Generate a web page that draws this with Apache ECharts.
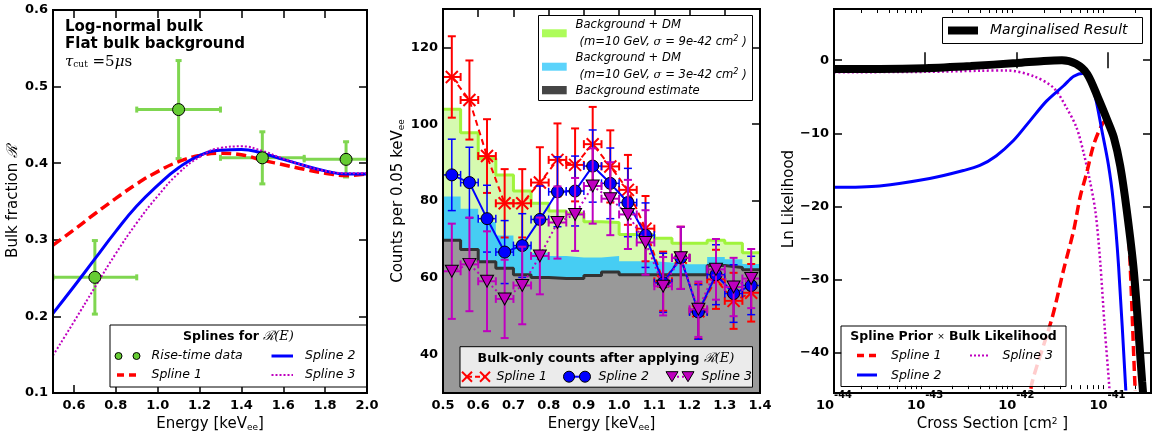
<!DOCTYPE html>
<html><head><meta charset="utf-8">
<script src="https://cdn.jsdelivr.net/npm/echarts@6/dist/echarts.min.js"></script>
<style>html,body{margin:0;padding:0;background:#fff}#c{width:1158px;height:437px}</style>
</head><body><div id="c"></div>
<script>
// ---------------- Left panel data ----------------
const riseE = [0.7, 1.1, 1.5, 1.9];
const riseR = [0.251, 0.470, 0.407, 0.405];
const riseRErr = [0.048, 0.064, 0.034, 0.023];
const riseEErr = [0.2, 0.2, 0.2, 0.2];
const splineE  = [0.5,0.6,0.7,0.8,0.9,1.0,1.1,1.2,1.3,1.4,1.5,1.6,1.7,1.8,1.9,2.0];
const spline1R = [0.293,0.313,0.334,0.354,0.373,0.389,0.402,0.410,0.413,0.411,0.404,0.398,0.392,0.387,0.384,0.386];
const spline2R = [0.204,0.239,0.275,0.311,0.344,0.371,0.394,0.410,0.417,0.418,0.413,0.405,0.397,0.390,0.386,0.386];
const spline3R = [0.149,0.193,0.238,0.282,0.322,0.357,0.387,0.408,0.420,0.422,0.416,0.406,0.397,0.390,0.387,0.387];
const leftXTicks = [0.6,0.8,1.0,1.2,1.4,1.6,1.8,2.0];
const leftYTicks = [0.1,0.2,0.3,0.4,0.5,0.6];

// ---------------- Middle panel data ----------------
const binLow = [0.50,0.55,0.60,0.65,0.70,0.75,0.80,0.85,0.90,0.95,1.00,1.05,1.10,1.15,1.20,1.25,1.30,1.35];
const binWidth = 0.05;
const bgCounts  = [69.8,67.4,64.2,62.5,60.8,60.1,59.8,59.8,60.6,61.5,60.8,60.8,60.8,60.8,60.8,63.2,62.7,62.1];
const dm3Counts = [81.2,78.0,74.5,71.0,68.3,66.5,65.7,65.3,65.3,65.7,64.3,64.3,64.0,63.5,63.5,65.4,64.8,63.6];
const dm9Counts = [103.9,97.8,91.1,86.8,82.6,79.4,77.4,76.8,74.6,74.4,71.3,71.3,70.3,69.0,69.0,69.8,69.0,66.5];
const binCentres = [0.525,0.575,0.625,0.675,0.725,0.775,0.825,0.875,0.925,0.975,1.025,1.075,1.125,1.175,1.225,1.275,1.325,1.375];
const bulk1    = [112.3,106.3,91.7,79.4,79.4,84.8,90.7,89.4,94.8,89.0,82.9,72.8,59.1,65.2,51.3,59.6,54.0,56.1];
const bulk1Err = [10.6,10.3,9.6,8.9,8.9,9.2,9.5,9.5,9.7,9.4,9.1,8.5,7.7,8.1,7.2,7.7,7.3,7.5];
const bulk2    = [86.8,84.8,75.4,66.7,68.4,75.2,82.4,82.6,89.1,84.6,79.6,71.1,58.7,65.2,51.1,60.8,55.9,58.0];
const bulk2Err = [9.3,9.2,8.7,8.2,8.3,8.7,9.1,9.1,9.4,9.2,8.9,8.4,7.7,8.1,7.1,7.8,7.5,7.6];
const bulk3    = [61.7,63.5,59.1,54.5,58.0,65.7,74.4,76.5,83.9,80.6,76.5,69.2,57.8,65.2,51.8,62.2,57.6,59.8];
const bulk3Err = [12.4,12.2,13.0,10.2,10.1,10.0,9.4,9.5,9.8,9.5,9.0,8.4,7.6,8.1,7.2,7.9,7.6,7.7];
const midXTicks = [0.5,0.6,0.7,0.8,0.9,1.0,1.1,1.2,1.3,1.4];
const midYTicks = [40,60,80,100,120];

// ---------------- Right panel data (cross section in cm^2) ----------------
const sigmaMarg = [1e-44,3.16e-44,1e-43,3.16e-43,1e-42,2e-42,3.16e-42,4.5e-42,6e-42,7.9e-42,1e-41,1.175e-41,1.38e-41,1.62e-41,1.95e-41,2.4e-41,2.63e-41];
const lnLMarg   = [-1.2,-1.2,-1.1,-0.8,-0.4,-0.1,0.0,-0.5,-1.9,-5.2,-8.3,-10.6,-14.5,-20.4,-29,-44,-50];
const sigmaS1 = [1.41e-42,1.48e-42,2.45e-42,3.31e-42,4.27e-42,5.01e-42,5.89e-42,7.08e-42,8.91e-42,1e-41,1.12e-41,1.32e-41,1.62e-41,2.0e-41,2.09e-41];
const lnLS1   = [-47,-44.2,-35.4,-28.6,-23.2,-18.7,-15.5,-11.5,-8.6,-8.2,-9.5,-13,-19.2,-44.4,-50];
const sigmaS2 = [1e-44,3.16e-44,1.12e-43,2.63e-43,3.98e-43,6.0e-43,9.3e-43,1.41e-42,2.14e-42,3.3e-42,4.27e-42,5.5e-42,6.46e-42,7.4e-42,8.7e-42,1.02e-41,1.15e-41,1.32e-41,1.58e-41,1.7e-41];
const lnLS2   = [-17.4,-17.2,-16.2,-15.1,-14.4,-13.1,-11.0,-8.3,-5.6,-3.5,-2.2,-1.8,-2.8,-5.2,-9.7,-14.2,-19,-28,-44.7,-52];
const sigmaS3 = [1e-44,1e-43,4e-43,7.9e-43,1.55e-42,2.57e-42,3.55e-42,4.57e-42,5.5e-42,6.46e-42,7.41e-42,8.32e-42,9.33e-42,1.05e-41,1.1e-41];
const lnLS3   = [-1.65,-1.6,-1.45,-1.4,-2.2,-3.8,-6.5,-9.2,-12.8,-16.7,-20.9,-27.6,-36.7,-45,-50];
const rightXTicks = [1e-44,1e-43,1e-42,1e-41];
const rightXMax = 3e-41;
const rightYTicks = [-40,-30,-20,-10,0];
const minorMult = [2,3,4,5,6,7,8,9];

// ---------------- helpers ----------------
const FONT = '"DejaVu Sans", sans-serif';
const SERIF = '"DejaVu Serif", serif';
const G = [
  {left:53, top:10, width:314, height:383},
  {left:443, top:9, width:317, height:384},
  {left:834, top:9, width:317, height:384}
];
const lg = Math.log10;
const rightMajor = rightXTicks.map(lg);
const rightMinor = [];
rightXTicks.forEach(d => minorMult.forEach(m => { const v = m*d; if (v < rightXMax) rightMinor.push(lg(v)); }));

const pairs = (xs, ys) => xs.map((x,i)=>[x, ys[i]]);
const logPairs = (xs, ys) => xs.map((x,i)=>[lg(x), ys[i]]);
const stepData = vals => { const d = binLow.map((x,i)=>[x, vals[i]]); d.push([binLow[binLow.length-1]+binWidth, vals[vals.length-1]]); return d; };
const errData = (xs, ys, ye, xe) => xs.map((x,i)=>[x, ys[i], ye[i], Array.isArray(xe)? xe[i] : xe]);

function errRender(color, lw, cap){
  return function(params, api){
    const x=api.value(0), y=api.value(1), e=api.value(2), xe=api.value(3);
    const t = api.coord([x,y+e]), b = api.coord([x,y-e]);
    const l = api.coord([x-xe,y]), r = api.coord([x+xe,y]);
    const st = {stroke: color, lineWidth: lw};
    const segs = [
      [t[0],t[1],b[0],b[1]], [l[0],l[1],r[0],r[1]],
      [t[0]-cap,t[1],t[0]+cap,t[1]], [b[0]-cap,b[1],b[0]+cap,b[1]],
      [l[0],l[1]-cap,l[0],l[1]+cap], [r[0],r[1]-cap,r[0],r[1]+cap]
    ];
    return {type:'group', children: segs.map(p=>({type:'line', shape:{x1:p[0],y1:p[1],x2:p[2],y2:p[3]}, style: st}))};
  };
}

const tickStyle = {show:true, inside:true, length:8, lineStyle:{color:'#000', width:1.5}};
const lblBase = {color:'#000', fontFamily: FONT, fontWeight:'bold', fontSize:13};
const nameStyle = {color:'#000', fontFamily: FONT, fontSize:15,
  rich:{ sub:{fontSize:9, fontFamily:FONT, verticalAlign:'bottom', lineHeight:10},
         sup:{fontSize:9, fontFamily:FONT, verticalAlign:'top', lineHeight:10},
         r:{fontSize:15, fontFamily:SERIF, fontStyle:'italic'} }};

function mkX(grid, pos, min, max, ticks, labelFmt, extra){
  return Object.assign({
    type:'value', gridIndex: grid, position: pos, min, max,
    axisLine:{show:false}, splitLine:{show:false},
    axisTick: Object.assign({}, tickStyle, {customValues: ticks}),
    axisLabel: labelFmt ? Object.assign({}, lblBase, {customValues: ticks, formatter: labelFmt, margin:6}) : {show:false}
  }, extra || {});
}
function mkY(grid, pos, min, max, ticks, labelFmt, extra){
  return Object.assign({
    type:'value', gridIndex: grid, position: pos, min, max,
    axisLine:{show:false}, splitLine:{show:false},
    axisTick: Object.assign({}, tickStyle, {customValues: ticks}),
    axisLabel: labelFmt ? Object.assign({}, lblBase, {customValues: ticks, formatter: labelFmt, margin:5}) : {show:false}
  }, extra || {});
}

const RMIN = lg(rightXTicks[0]), RMAX = lg(rightXMax);
const xAxes = [
  mkX(0,'bottom',0.5,2.0,leftXTicks,v=>v.toFixed(1),{name:'Energy [keV{sub|ee}]', nameLocation:'middle', nameGap:19, nameTextStyle:nameStyle}),
  mkX(0,'top',0.5,2.0,leftXTicks,null),
  mkX(1,'bottom',0.5,1.4,midXTicks,v=>v.toFixed(1),{name:'Energy [keV{sub|ee}]', nameLocation:'middle', nameGap:19, nameTextStyle:nameStyle}),
  mkX(1,'top',0.5,1.4,midXTicks,null),
  mkX(2,'bottom',RMIN,RMAX,rightMajor,v=>'{b|10}{s|'+Math.round(v)+'}',{name:'Cross Section [cm{sup|2} ]', nameLocation:'middle', nameGap:19, nameTextStyle:nameStyle}),
  mkX(2,'top',RMIN,RMAX,rightMajor,null),
  mkX(2,'bottom',RMIN,RMAX,rightMinor,null),
  mkX(2,'top',RMIN,RMAX,rightMinor,null)
];
xAxes[4].axisLabel.rich = {b:{fontSize:13, fontWeight:'bold', fontFamily:FONT, lineHeight:22, verticalAlign:'bottom'},
                          s:{fontSize:10, fontWeight:'bold', fontFamily:FONT, lineHeight:22, verticalAlign:'top'}};
xAxes[4].axisLabel.margin = 1;
xAxes[6].axisTick.length = 4; xAxes[6].axisTick.lineStyle = {color:'#000', width:1};
xAxes[7].axisTick.length = 4; xAxes[7].axisTick.lineStyle = {color:'#000', width:1};

const yAxes = [
  mkY(0,'left',0.1,0.6,leftYTicks,v=>v.toFixed(1),{name:'Bulk fraction {r|ℛ}', nameLocation:'middle', nameGap:31, nameRotate:90, nameTextStyle:nameStyle}),
  mkY(0,'right',0.1,0.6,leftYTicks,null),
  mkY(1,'left',30,130,midYTicks,v=>String(v),{name:'Counts per 0.05 keV{sub|ee}', nameLocation:'middle', nameGap:37, nameRotate:90, nameTextStyle:nameStyle}),
  mkY(1,'right',30,130,midYTicks,null),
  mkY(2,'left',-45,7,rightYTicks,v=>(v<0?'\u2212'+Math.abs(v):String(v)),{name:'Ln Likelihood', nameLocation:'middle', nameGap:34, nameRotate:90, nameTextStyle:nameStyle}),
  mkY(2,'right',-45,7,rightYTicks,null)
];

const RED='#ff0000', BLUE='#0000ff', MAG='#bf00bf';
const series = [];
// ---- left panel
series.push({type:'custom', xAxisIndex:0, yAxisIndex:0, clip:true, z:2, renderItem: errRender('#7fd650', 3, 3),
  data: errData(riseE, riseR, riseRErr, riseEErr), encode:{x:0,y:1}});
series.push({type:'line', xAxisIndex:0, yAxisIndex:0, smooth:true, showSymbol:false, z:3,
  data: pairs(splineE, spline1R), lineStyle:{color:RED, width:3.5, type:[10,5]}});
series.push({type:'line', xAxisIndex:0, yAxisIndex:0, smooth:true, showSymbol:false, z:3,
  data: pairs(splineE, spline2R), lineStyle:{color:BLUE, width:3}});
series.push({type:'line', xAxisIndex:0, yAxisIndex:0, smooth:true, showSymbol:false, z:3,
  data: pairs(splineE, spline3R), lineStyle:{color:MAG, width:2, type:[2,2]}});
series.push({type:'scatter', xAxisIndex:0, yAxisIndex:0, z:4, symbol:'circle', symbolSize:12,
  data: pairs(riseE, riseR), itemStyle:{color:'#66cc33', borderColor:'#000', borderWidth:1, opacity:1}});

// ---- middle panel histograms
series.push({type:'line', xAxisIndex:2, yAxisIndex:2, step:'end', showSymbol:false, z:1,
  data: stepData(dm9Counts), lineStyle:{color:'#a0f43c', width:3}, areaStyle:{color:'#d6fab0', opacity:1, origin:'start'}});
series.push({type:'line', xAxisIndex:2, yAxisIndex:2, step:'end', showSymbol:false, z:1,
  data: stepData(dm3Counts), lineStyle:{width:0, color:'#46cdf3'}, areaStyle:{color:'#46cdf3', opacity:1, origin:'start'}});
series.push({type:'line', xAxisIndex:2, yAxisIndex:2, step:'end', showSymbol:false, z:1,
  data: stepData(bgCounts), lineStyle:{color:'#333333', width:3}, areaStyle:{color:'#999999', opacity:1, origin:'start'}});

// ---- middle panel bulk counts
const X_SYM = 'path://M0,0L10,10M10,0L0,10';
const TRI_SYM = 'path://M0,0L12,0L6,10Z';
series.push({type:'custom', xAxisIndex:2, yAxisIndex:2, clip:true, z:3, renderItem: errRender(RED, 2, 4),
  data: errData(binCentres, bulk1, bulk1Err, binWidth/2), encode:{x:0,y:1}});
series.push({type:'line', xAxisIndex:2, yAxisIndex:2, z:4, symbol:X_SYM, symbolSize:12, showAllSymbol:true,
  data: pairs(binCentres, bulk1), lineStyle:{color:RED, width:2, type:[6,4]},
  itemStyle:{color:RED, borderColor:RED, borderWidth:2}});
series.push({type:'custom', xAxisIndex:2, yAxisIndex:2, clip:true, z:5, renderItem: errRender(BLUE, 1.5, 4),
  data: errData(binCentres, bulk2, bulk2Err, binWidth/2), encode:{x:0,y:1}});
series.push({type:'line', xAxisIndex:2, yAxisIndex:2, z:6, symbol:'circle', symbolSize:12, showAllSymbol:true,
  data: pairs(binCentres, bulk2), lineStyle:{color:BLUE, width:2},
  itemStyle:{color:BLUE, borderColor:'#000', borderWidth:1}});
series.push({type:'custom', xAxisIndex:2, yAxisIndex:2, clip:true, z:7, renderItem: errRender(MAG, 2, 4),
  data: errData(binCentres, bulk3, bulk3Err, binWidth/2), encode:{x:0,y:1}});
series.push({type:'line', xAxisIndex:2, yAxisIndex:2, z:8, symbol:TRI_SYM, symbolSize:[13,12], showAllSymbol:true,
  data: pairs(binCentres, bulk3), lineStyle:{color:MAG, width:2, type:[2,3]},
  itemStyle:{color:MAG, borderColor:'#000', borderWidth:1}});

// ---- right panel (x plotted as log10 of cross section)
series.push({type:'line', xAxisIndex:4, yAxisIndex:4, smooth:0.3, showSymbol:false, z:3,
  data: logPairs(sigmaS3, lnLS3), lineStyle:{color:MAG, width:2.5, type:[2,2.5]}});
series.push({type:'line', xAxisIndex:4, yAxisIndex:4, smooth:0.3, showSymbol:false, z:3,
  data: logPairs(sigmaS1, lnLS1), lineStyle:{color:RED, width:3.5, type:[10,5]}});
series.push({type:'line', xAxisIndex:4, yAxisIndex:4, smooth:0.3, showSymbol:false, z:3,
  data: logPairs(sigmaS2, lnLS2), lineStyle:{color:BLUE, width:3}});
series.push({type:'line', xAxisIndex:4, yAxisIndex:4, smooth:0.3, showSymbol:false, z:4,
  data: logPairs(sigmaMarg, lnLMarg), lineStyle:{color:'#000', width:8}});

// ---------------- graphics: frames, legends, annotations ----------------
const gfx = [];
const T = (x, y, text, font, extra) => ({type:'text', x, y, z:101,
  style: Object.assign({text, font, fill:'#000', align:'left', verticalAlign:'middle'}, extra||{})});
const L = (x1,y1,x2,y2,color,w,dash) => ({type:'line', z:101, shape:{x1,y1,x2,y2}, style:{stroke:color, lineWidth:w, lineDash:dash||null}});
const BOX = (x,y,w,h,fill) => ({type:'rect', z:100, shape:{x,y,width:w,height:h}, style:{fill, stroke:'#000', lineWidth:1}});
const ITAL = 'italic 12.5px ' + FONT;
const ITS = 'italic 11.6px ' + FONT;
const BOLD = 'bold 12.5px ' + FONT;

G.forEach(g => gfx.push({type:'rect', z:102, shape:{x:g.left, y:g.top, width:g.width, height:g.height}, style:{fill:null, stroke:'#000', lineWidth:2}}));

// left annotation
gfx.push(T(65, 27, 'Log-normal bulk', 'bold 15px '+FONT));
gfx.push(T(65, 44, 'Flat bulk background', 'bold 15px '+FONT));
gfx.push(T(65, 62, '{a|τ}{b|cut}{c| =5}{a|μ}{c|s}', '15px '+SERIF, {rich:{
  a:{font:'italic 15px '+SERIF, verticalAlign:'middle'},
  b:{font:'9px '+SERIF, verticalAlign:'bottom', lineHeight:14},
  c:{font:'15px '+SERIF}}}));

// left legend
gfx.push(BOX(110, 325, 257, 62, '#fff'));
gfx.push(T(238.5, 337, '{a|Splines for }{b|ℛ(E)}', BOLD, {align:'center', rich:{a:{font:BOLD}, b:{font:'italic 13px '+SERIF}}}));
gfx.push({type:'circle', z:101, shape:{cx:118.5, cy:356, r:3.5}, style:{fill:'#66cc33', stroke:'#000', lineWidth:1}});
gfx.push({type:'circle', z:101, shape:{cx:136.5, cy:356, r:3.5}, style:{fill:'#66cc33', stroke:'#000', lineWidth:1}});
gfx.push(T(151.5, 356, 'Rise-time data', ITAL));
gfx.push(L(271.5, 356, 293, 356, BLUE, 3));
gfx.push(T(305, 356, 'Spline 2', ITAL));
gfx.push(L(117, 375, 137, 375, RED, 3.5, [7,5]));
gfx.push(T(151.5, 375, 'Spline 1', ITAL));
gfx.push(L(271.5, 375, 293, 375, MAG, 2, [2,2]));
gfx.push(T(305, 375, 'Spline 3', ITAL));

// middle top legend
gfx.push(BOX(538.5, 15.5, 214, 85, '#fff'));
gfx.push({type:'rect', z:101, shape:{x:542, y:29.3, width:24.7, height:8}, style:{fill:'#adfc5a'}});
gfx.push(T(575.5, 25, 'Background + DM', ITS));
gfx.push(T(579.5, 42, '{a|(m=10 GeV, }{s|σ}{a| = 9e-42 cm}{p|2}{a| )}', ITS, {rich:{a:{font:ITS}, s:{font:'italic 11.6px '+SERIF}, p:{font:'italic 8px '+FONT, verticalAlign:'top', lineHeight:15}}}));
gfx.push({type:'rect', z:101, shape:{x:542, y:62.7, width:24.7, height:8}, style:{fill:'#5bd3fb'}});
gfx.push(T(575.5, 58.3, 'Background + DM', ITS));
gfx.push(T(579.5, 75, '{a|(m=10 GeV, }{s|σ}{a| = 3e-42 cm}{p|2}{a| )}', ITS, {rich:{a:{font:ITS}, s:{font:'italic 11.6px '+SERIF}, p:{font:'italic 8px '+FONT, verticalAlign:'top', lineHeight:15}}}));
gfx.push({type:'rect', z:101, shape:{x:542, y:86, width:24.7, height:8.3}, style:{fill:'#454545'}});
gfx.push(T(575.5, 90.5, 'Background estimate', ITS));

// middle bottom legend
gfx.push(BOX(460, 346.7, 292.5, 40.5, 'rgba(255,255,255,0.8)'));
gfx.push(T(606, 358.5, '{a|Bulk-only counts after applying }{b|ℛ(E)}', BOLD, {align:'center', rich:{a:{font:BOLD}, b:{font:'italic 13px '+SERIF}}}));
gfx.push(L(467, 376.7, 485, 376.7, RED, 2, [5,3]));
[467, 485].forEach(cx => {
  gfx.push(L(cx-5, 371.7, cx+5, 381.7, RED, 2));
  gfx.push(L(cx+5, 371.7, cx-5, 381.7, RED, 2));
});
gfx.push(T(496.5, 377, 'Spline 1', ITAL));
gfx.push(L(569, 376.7, 585, 376.7, BLUE, 2));
[569, 585].forEach(cx => gfx.push({type:'circle', z:102, shape:{cx, cy:376.7, r:5.5}, style:{fill:BLUE, stroke:'#000', lineWidth:1}}));
gfx.push(T(598.5, 377, 'Spline 2', ITAL));
gfx.push(L(672, 376.7, 688, 376.7, MAG, 2, [2,3]));
[672, 688].forEach(cx => gfx.push({type:'polygon', z:102, shape:{points:[[cx-6,371.7],[cx+6,371.7],[cx,381.7]]}, style:{fill:MAG, stroke:'#000', lineWidth:1}}));
gfx.push(T(701.5, 377, 'Spline 3', ITAL));

// right top legend
gfx.push(BOX(942.5, 17.5, 200, 26, '#fff'));
gfx.push(L(948, 30.5, 978, 30.5, '#000', 8));
gfx.push(T(990, 30.5, 'Marginalised Result', 'italic 14px '+FONT));

// right bottom legend
gfx.push(BOX(841, 326, 225, 60.5, 'rgba(255,255,255,0.8)'));
gfx.push(T(953.5, 337, '{a|Spline Prior }{x|×}{a| Bulk Likelihood}', BOLD, {align:'center', rich:{a:{font:BOLD}, x:{font:'9px '+FONT}}}));
gfx.push(L(857, 355.5, 877, 355.5, RED, 3.5, [7,5]));
gfx.push(T(891, 356, 'Spline 1', ITAL));
gfx.push(L(970, 355.5, 988, 355.5, MAG, 2, [2,2]));
gfx.push(T(1002.5, 356, 'Spline 3', ITAL));
gfx.push(L(857, 375, 877, 375, BLUE, 3));
gfx.push(T(891, 375.5, 'Spline 2', ITAL));

const chart = echarts.init(document.getElementById('c'), null, {renderer:'canvas'});
chart.setOption({
  animation:false,
  backgroundColor:'#fff',
  grid: G.map(g => Object.assign({containLabel:false, show:false}, g)),
  xAxis: xAxes,
  yAxis: yAxes,
  series,
  graphic: gfx
});
</script></body></html>
